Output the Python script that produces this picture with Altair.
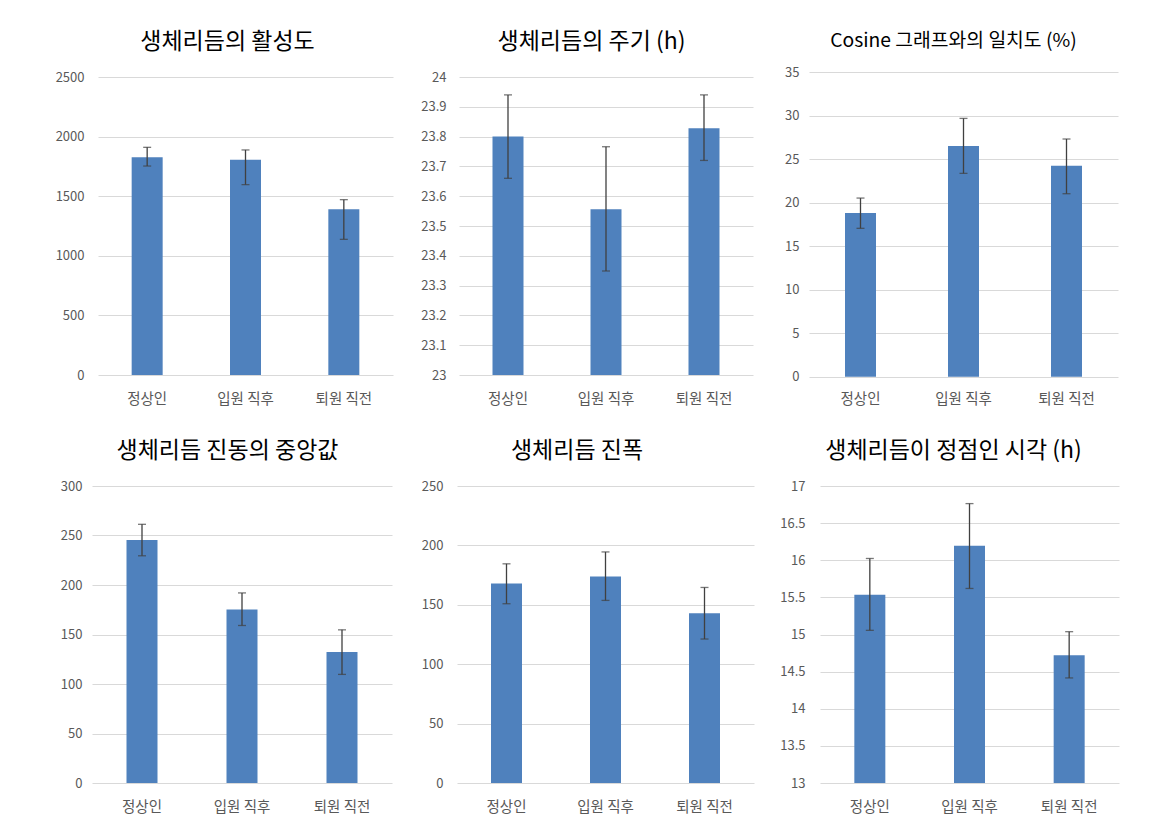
import altair as alt
import pandas as pd

categories = ["정상인", "입원 직후", "퇴원 직전"]

titles = [
    "생체리듬의 활성도",
    "생체리듬의 주기 (h)",
    "Cosine 그래프와의 일치도 (%)",
    "생체리듬 진동의 중앙값",
    "생체리듬 진폭",
    "생체리듬이 정점인 시각 (h)",
]

activity_mean = [1826, 1806, 1390]
activity_hi = [1910, 1888, 1471]
activity_lo = [1753, 1597, 1138]

period_mean = [23.80, 23.556, 23.828]
period_hi = [23.94, 23.766, 23.94]
period_lo = [23.66, 23.349, 23.72]

cosine_mean = [18.82, 26.52, 24.26]
cosine_hi = [20.54, 29.70, 27.33]
cosine_lo = [17.06, 23.38, 21.04]

median_mean = [245.5, 175.2, 132.2]
median_hi = [261.3, 192.0, 154.7]
median_lo = [229.5, 159.1, 109.7]

amp_mean = [168.0, 173.8, 142.8]
amp_hi = [184.5, 194.5, 164.6]
amp_lo = [150.9, 153.7, 121.2]

peak_mean = [15.535, 16.194, 14.720]
peak_hi = [16.024, 16.763, 15.038]
peak_lo = [15.056, 15.620, 14.415]

ticks_activity = [0, 500, 1000, 1500, 2000, 2500]
ticks_period = [23, 23.1, 23.2, 23.3, 23.4, 23.5, 23.6, 23.7, 23.8, 23.9, 24]
ticks_cosine = [0, 5, 10, 15, 20, 25, 30, 35]
ticks_median = [0, 50, 100, 150, 200, 250, 300]
ticks_amp = [0, 50, 100, 150, 200, 250]
ticks_peak = [13, 13.5, 14, 14.5, 15, 15.5, 16, 16.5, 17]

FONT = "Noto Sans CJK KR"
BAR = "#4F81BD"
ERR = "#404040"


def panel(title, mean, hi, lo, ticks, width, height, extent, lpad, tsize=23, toff=17,
          tdx=0, xrange=None, yrange=None):
    df = pd.DataFrame({"cat": categories, "mean": mean, "hi": hi, "lo": lo})
    lo_dom, hi_dom = ticks[0], ticks[-1]
    xaxis = alt.Axis(labelAngle=0, ticks=False, domain=False, grid=False,
                     labelFontSize=14.5, labelColor="#595959", labelFont=FONT,
                     labelPadding=17)
    if xrange is not None:
        xscale = alt.Scale(paddingInner=0, paddingOuter=0, range=xrange)
    else:
        xscale = alt.Scale(paddingInner=0, paddingOuter=0)
    yaxis = alt.Axis(values=ticks, format="~r", ticks=False, domain=False,
                     gridColor="#D9D9D9", gridWidth=1, labelFontSize=13,
                     labelColor="#595959", labelFont=FONT, labelPadding=lpad,
                     labelOverlap=False, labelBound=False,
                     minExtent=extent, maxExtent=extent)
    if yrange is not None:
        yscale = alt.Scale(domain=[lo_dom, hi_dom], nice=False, zero=False, range=yrange)
    else:
        yscale = alt.Scale(domain=[lo_dom, hi_dom], nice=False, zero=False)

    def X():
        return alt.X("cat:N", sort=categories, title=None, scale=xscale, axis=xaxis)

    base = alt.Chart(df)
    bars = base.mark_bar(size=31, color=BAR).encode(
        x=X(),
        y=alt.Y("mean:Q", scale=yscale, title=None, axis=yaxis),
        y2=alt.datum(lo_dom),
    )
    rule = base.mark_rule(color=ERR, strokeWidth=1.3).encode(
        x=X(), y=alt.Y("lo:Q", scale=yscale, title=None, axis=yaxis), y2="hi:Q")
    cap_hi = base.mark_tick(color=ERR, size=8, thickness=1.3).encode(
        x=X(), y=alt.Y("hi:Q", scale=yscale, title=None, axis=yaxis))
    cap_lo = base.mark_tick(color=ERR, size=8, thickness=1.3).encode(
        x=X(), y=alt.Y("lo:Q", scale=yscale, title=None, axis=yaxis))
    return alt.layer(bars, rule, cap_hi, cap_lo).properties(
        width=width, height=height,
        title=alt.TitleParams(title, fontSize=tsize, font=FONT, fontWeight="normal",
                              color="#000000", offset=toff, anchor="middle", dx=tdx),
    )


p1 = panel(titles[0], activity_mean, activity_hi, activity_lo, ticks_activity, 295, 298, 85, 14,
           tdx=-18)
p2 = panel(titles[1], period_mean, period_hi, period_lo, ticks_period, 294, 298, 56, 13,
           tdx=-14.5)
p3 = panel(titles[2], cosine_mean, cosine_hi, cosine_lo, ticks_cosine, 309, 298, 45.5, 10,
           tsize=19.3, toff=15, tdx=-10, yrange=[299.7, -4.7])
p4 = panel(titles[3], median_mean, median_hi, median_lo, ticks_median, 294, 297, 79, 16,
           tdx=-17.5, xrange=[-6, 294])
p5 = panel(titles[4], amp_mean, amp_hi, amp_lo, ticks_amp, 297, 297, 49, 14, tdx=-28.5)
p6 = panel(titles[5], peak_mean, peak_hi, peak_lo, ticks_peak, 299, 297, 56, 15, tdx=-16)

row1 = alt.hconcat(p1, p2, p3, spacing=10)
row2 = alt.hconcat(p4, p5, p6, spacing=10)
chart = (
    alt.vconcat(row1, row2, spacing=34)
    .properties(padding={"left": 5, "top": 23, "right": 5, "bottom": 5},
                background="white")
    .configure_view(stroke="transparent", strokeWidth=0)
    .configure_axisX(grid=False, domain=False)
    .configure_axisY(domain=False)
)

chart.save("out.html", embed_options={"renderer": "svg", "actions": False})
